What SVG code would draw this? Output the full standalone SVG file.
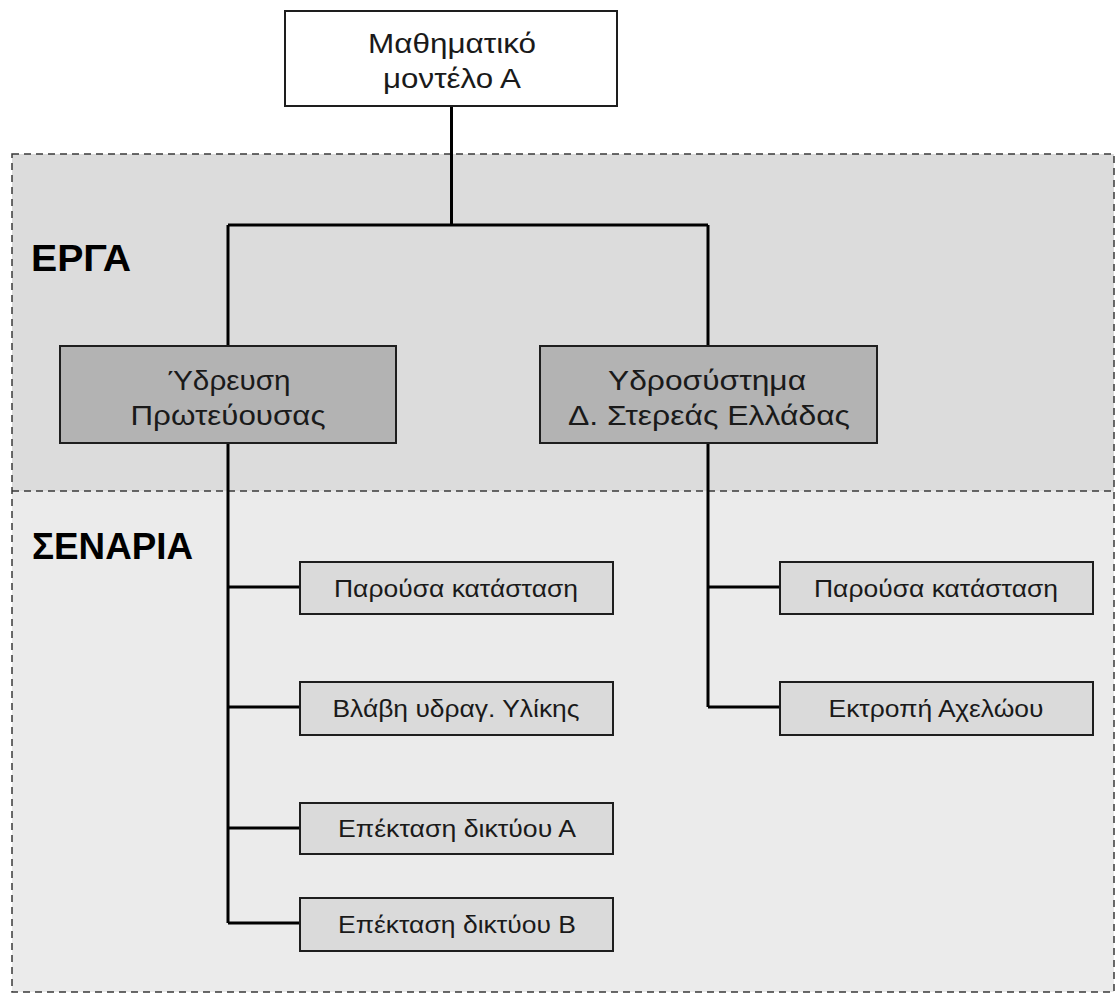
<svg xmlns="http://www.w3.org/2000/svg" width="1116" height="994" viewBox="0 0 1116 994">
<style>
.t{font-family:"Liberation Sans",Arial,sans-serif;fill:#1a1a1a;text-anchor:middle}
.n{font-size:27px}
.s{font-size:24.5px}
.lbl{font-family:"Liberation Sans",Arial,sans-serif;font-weight:bold;font-size:36px;fill:#000}
.box{stroke:#1e1e1e;stroke-width:2}
.c{stroke:#000;stroke-width:3;fill:none}
.dash{fill:none;stroke:#3a3a3a;stroke-width:1.5;stroke-dasharray:7 5}
</style>
<rect width="1116" height="994" fill="#fff"/>
<g id="bands">
<rect x="12" y="154" width="1102" height="337" fill="#dcdcdc"/>
<rect x="12" y="491" width="1102" height="501" fill="#ebebeb"/>
<rect x="12" y="154" width="1102" height="838" class="dash"/>
<line x1="12" y1="491" x2="1114" y2="491" class="dash"/>
<text class="lbl" x="31" y="271" textLength="100" lengthAdjust="spacingAndGlyphs">ΕΡΓΑ</text>
<text class="lbl" x="32" y="559" textLength="161" lengthAdjust="spacingAndGlyphs">ΣΕΝΑΡΙΑ</text>
</g>
<g id="connectors">
<path class="c" d="M451.5 106 V225 M228 225 H708 M228 225 V346 M708 225 V346"/>
<path class="c" d="M228 443 V923 M228 587 H300 M228 707 H300 M228 828 H300 M228 923 H300"/>
<path class="c" d="M708 443 V707 M708 587 H780 M708 707 H780"/>
</g>
<g id="model">
<rect x="285" y="11" width="332" height="95" fill="#fff" class="box"/>
<text class="t n" x="452" y="53" textLength="168" lengthAdjust="spacingAndGlyphs">Μαθηματικό</text>
<text class="t n" x="452" y="88" textLength="138" lengthAdjust="spacingAndGlyphs">μοντέλο Α</text>
</g>
<g id="project1">
<rect x="60" y="346" width="336" height="97" fill="#b3b3b3" class="box"/>
<text class="t n" x="229" y="390" textLength="123" lengthAdjust="spacingAndGlyphs">Ύδρευση</text>
<text class="t n" x="228" y="425" textLength="195" lengthAdjust="spacingAndGlyphs">Πρωτεύουσας</text>
</g>
<g id="project2">
<rect x="540" y="346" width="337" height="97" fill="#b3b3b3" class="box"/>
<text class="t n" x="707" y="390" textLength="198" lengthAdjust="spacingAndGlyphs">Υδροσύστημα</text>
<text class="t n" x="709" y="425" textLength="282" lengthAdjust="spacingAndGlyphs">Δ. Στερεάς Ελλάδας</text>
</g>
<g id="s1">
<rect x="300" y="562" width="313" height="52" fill="#dadada" class="box"/>
<text class="t s" x="456" y="597" textLength="244" lengthAdjust="spacingAndGlyphs">Παρούσα κατάσταση</text>
</g>
<g id="s2">
<rect x="300" y="682" width="313" height="53" fill="#dadada" class="box"/>
<text class="t s" x="456" y="717" textLength="247" lengthAdjust="spacingAndGlyphs">Βλάβη υδραγ. Υλίκης</text>
</g>
<g id="s3">
<rect x="300" y="803" width="313" height="51" fill="#dadada" class="box"/>
<text class="t s" x="457" y="837" textLength="238" lengthAdjust="spacingAndGlyphs">Επέκταση δικτύου Α</text>
</g>
<g id="s4">
<rect x="300" y="898" width="313" height="53" fill="#dadada" class="box"/>
<text class="t s" x="457" y="933" textLength="238" lengthAdjust="spacingAndGlyphs">Επέκταση δικτύου Β</text>
</g>
<g id="s5">
<rect x="780" y="562" width="313" height="52" fill="#dadada" class="box"/>
<text class="t s" x="936" y="597" textLength="244" lengthAdjust="spacingAndGlyphs">Παρούσα κατάσταση</text>
</g>
<g id="s6">
<rect x="780" y="682" width="313" height="53" fill="#dadada" class="box"/>
<text class="t s" x="936" y="717" textLength="215" lengthAdjust="spacingAndGlyphs">Εκτροπή Αχελώου</text>
</g>
</svg>
